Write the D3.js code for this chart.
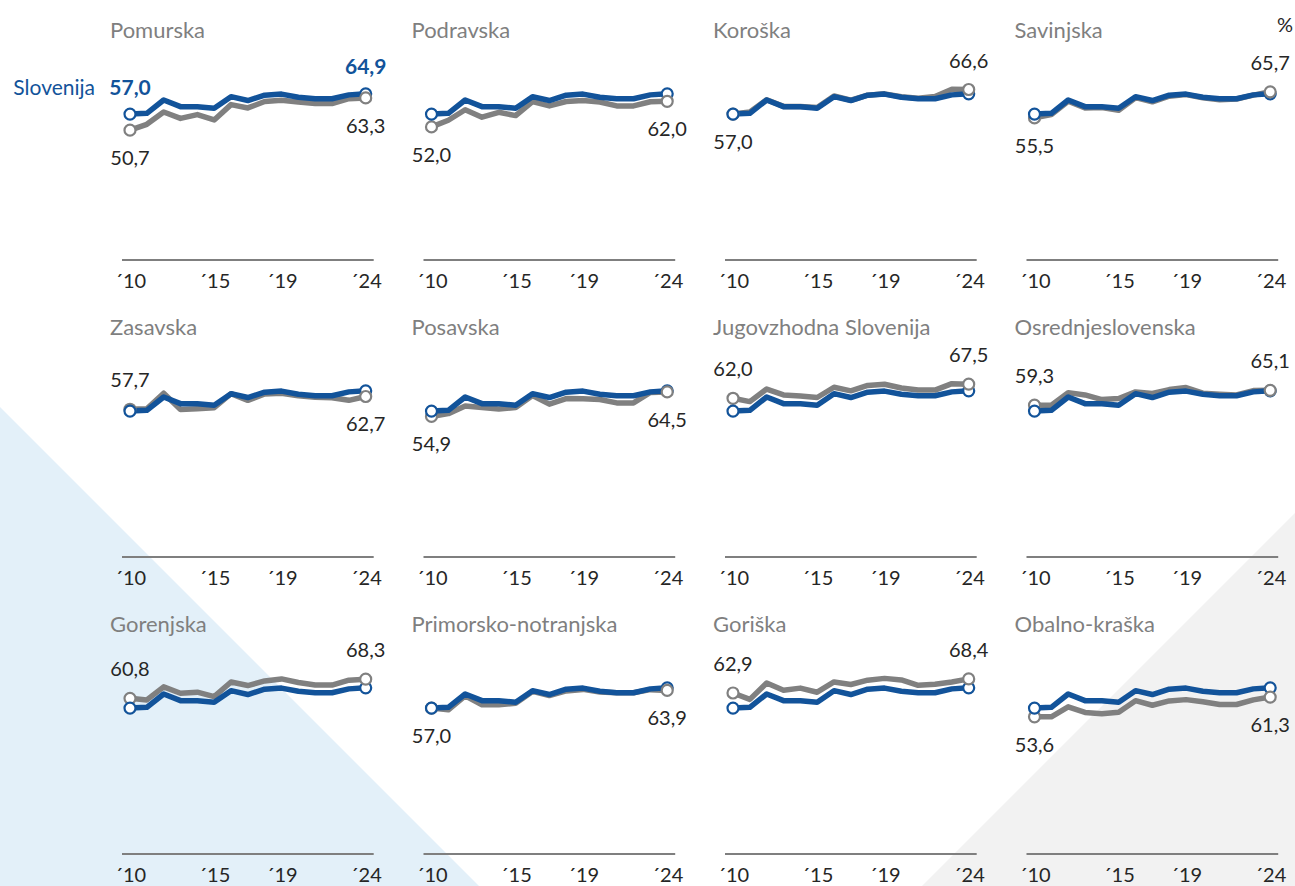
<!DOCTYPE html>
<html>
<head>
<meta charset="utf-8">
<script src="https://cdn.jsdelivr.net/npm/d3@7/dist/d3.min.js"></script>
<style>
  body { margin: 0; background: #fff; }
  svg { display: block; font-family: Lato, "Open Sans", sans-serif; }
  .title { fill: #7f7f7f; font-size: 22px; }
  .val { fill: #262626; font-size: 20px; }
  .si { fill: #12539a; font-size: 21px; }
  .axis text { fill: #262626; font-size: 20px; font-family: Lato, "Open Sans", sans-serif; }
</style>
</head>
<body>
<svg id="chart" width="1295" height="886"></svg>
<script>
// data
const years = [2010, 2011, 2012, 2013, 2014, 2015, 2016, 2017, 2018, 2019, 2020, 2021, 2022, 2023, 2024];
const tickYears = [2010, 2015, 2019, 2024];

const regions = ["Pomurska", "Podravska", "Koroška", "Savinjska",
                 "Zasavska", "Posavska", "Jugovzhodna Slovenija", "Osrednjeslovenska",
                 "Gorenjska", "Primorsko-notranjska", "Goriška", "Obalno-kraška"];

const slovenija = [57.0, 57.3, 62.5, 59.9, 59.9, 59.3, 63.8, 62.3, 64.4, 64.8, 63.6, 63.0, 63.0, 64.5, 64.9];

const pomurska    = [50.7, 53.0, 57.8, 55.3, 56.8, 54.7, 60.7, 59.4, 61.9, 62.4, 61.7, 61.1, 61.1, 63.0, 63.3];
const podravska   = [52.0, 54.6, 58.7, 55.8, 57.7, 56.4, 61.9, 60.2, 61.9, 62.3, 61.7, 60.2, 60.2, 61.8, 62.0];
const koroska     = [57.0, 57.8, 62.6, 60.0, 60.0, 59.6, 64.1, 62.4, 64.4, 64.9, 63.8, 63.2, 63.9, 66.7, 66.6];
const savinjska   = [55.5, 56.8, 62.0, 59.4, 59.6, 58.5, 63.4, 61.8, 64.0, 64.6, 63.4, 62.6, 62.9, 64.4, 65.7];
const zasavska    = [57.7, 57.9, 64.0, 57.6, 57.9, 58.3, 63.8, 61.2, 63.7, 64.0, 63.0, 62.4, 62.2, 61.2, 62.7];
const posavska    = [54.9, 56.0, 59.0, 58.4, 57.8, 58.4, 63.1, 59.7, 61.9, 61.8, 61.5, 60.2, 60.2, 64.3, 64.5];
const jugovzhodna = [62.0, 60.7, 65.6, 63.3, 62.9, 62.3, 66.3, 64.9, 67.0, 67.5, 66.0, 65.2, 65.2, 67.7, 67.5];
const osrednje    = [59.3, 59.3, 64.2, 63.3, 61.5, 61.9, 64.5, 63.9, 65.4, 66.2, 64.0, 63.6, 63.3, 65.0, 65.1];
const gorenjska   = [60.8, 60.2, 65.3, 62.8, 63.2, 61.5, 67.2, 65.8, 67.6, 68.4, 67.0, 66.0, 66.0, 67.9, 68.3];
const primorsko   = [57.0, 56.3, 61.8, 58.3, 58.3, 58.9, 63.5, 61.9, 63.7, 64.3, 63.3, 63.0, 63.0, 64.2, 63.9];
const goriska     = [62.9, 60.4, 66.8, 64.0, 64.8, 63.2, 67.2, 66.2, 67.9, 68.6, 68.0, 65.9, 66.3, 67.2, 68.4];
const obalno      = [53.6, 53.6, 57.5, 55.3, 54.8, 55.4, 59.9, 58.1, 59.8, 60.3, 59.5, 58.4, 58.4, 60.2, 61.3];

const regionValues = [pomurska, podravska, koroska, savinjska, zasavska, posavska,
                      jugovzhodna, osrednje, gorenjska, primorsko, goriska, obalno];

const blue = "#12539a", grey = "#808080";
const svg = d3.select("#chart");
const fmt = d3.formatLocale({decimal: ",", thousands: ".", grouping: [3], currency: ["", ""]}).format(".1f");

// background triangles
svg.append("path").attr("d", "M0,407L0,886L479,886Z").attr("fill", "#e3f0f9");
svg.append("path").attr("d", "M1295,513L1295,886L922,886Z").attr("fill", "#f2f2f2");

svg.append("text").attr("class", "val").attr("x", 1293).attr("y", 32)
   .attr("text-anchor", "end").text("%");

// panel layout
const firstX = 130, plotW = 235.7, colStep = 301.5;
const firstAxis = 260, rowStep = 297;

regions.forEach((name, i) => {
    const col = i % 4, row = Math.floor(i / 4);
    const x0 = firstX + col * colStep;
    const axisY = firstAxis + row * rowStep;
    const vals = regionValues[i];

    const x = d3.scaleLinear().domain([2010, 2024]).range([x0, x0 + plotW]);
    const y = d3.scaleLinear().domain([0, 80]).range([axisY, axisY - 204.8]);
    const g = svg.append("g");

    g.append("text").attr("class", "title").attr("x", x0 - 20).attr("y", axisY - 222).text(name);

    // axis
    const ax = g.append("g").attr("class", "axis").attr("transform", `translate(0,${axisY})`)
        .call(d3.axisBottom(x).tickValues(tickYears).tickSize(0).tickPadding(14)
              .tickFormat(d => "´" + String(d).slice(2)));
    ax.select(".domain").remove();
    g.append("line").attr("x1", x0 - 8).attr("x2", x0 + plotW + 8)
        .attr("y1", axisY).attr("y2", axisY).attr("stroke", "#7f7f7f").attr("stroke-width", 2);

    const line = d3.line().x((d, k) => x(years[k])).y(d => y(d));
    g.append("path").datum(vals).attr("d", line).attr("fill", "none")
        .attr("stroke", grey).attr("stroke-width", 5.5).attr("stroke-linejoin", "round");
    g.append("path").datum(slovenija).attr("d", line).attr("fill", "none")
        .attr("stroke", blue).attr("stroke-width", 5.5).attr("stroke-linejoin", "round");

    const last = years.length - 1;
    const dot = (k, v, c) => g.append("circle").attr("cx", x(years[k])).attr("cy", y(v)).attr("r", 5.5)
        .attr("fill", "#fff").attr("stroke", c).attr("stroke-width", 2.2);
    dot(0, vals[0], grey);
    dot(0, slovenija[0], blue);
    dot(last, slovenija[last], blue);
    dot(last, vals[last], grey);

    // value labels for the region
    const lab = (k, v, above) => g.append("text").attr("class", "val")
        .attr("x", x(years[k])).attr("y", above ? y(v) - 22 : y(v) + 35)
        .attr("text-anchor", "middle").text(fmt(v));
    lab(0, vals[0], vals[0] > slovenija[0]);
    lab(last, vals[last], vals[last] > slovenija[last]);

    if (i === 0) {
        g.append("text").attr("class", "si").attr("x", 95).attr("y", y(slovenija[0]) - 19)
            .attr("text-anchor", "end").text("Slovenija");
        g.append("text").attr("class", "si").attr("font-weight", "bold")
            .attr("x", x(2010)).attr("y", y(slovenija[0]) - 19).attr("text-anchor", "middle")
            .text(fmt(slovenija[0]));
        g.append("text").attr("class", "si").attr("font-weight", "bold")
            .attr("x", x(2024)).attr("y", y(slovenija[last]) - 20).attr("text-anchor", "middle")
            .text(fmt(slovenija[last]));
    }
});
</script>
</body>
</html>
